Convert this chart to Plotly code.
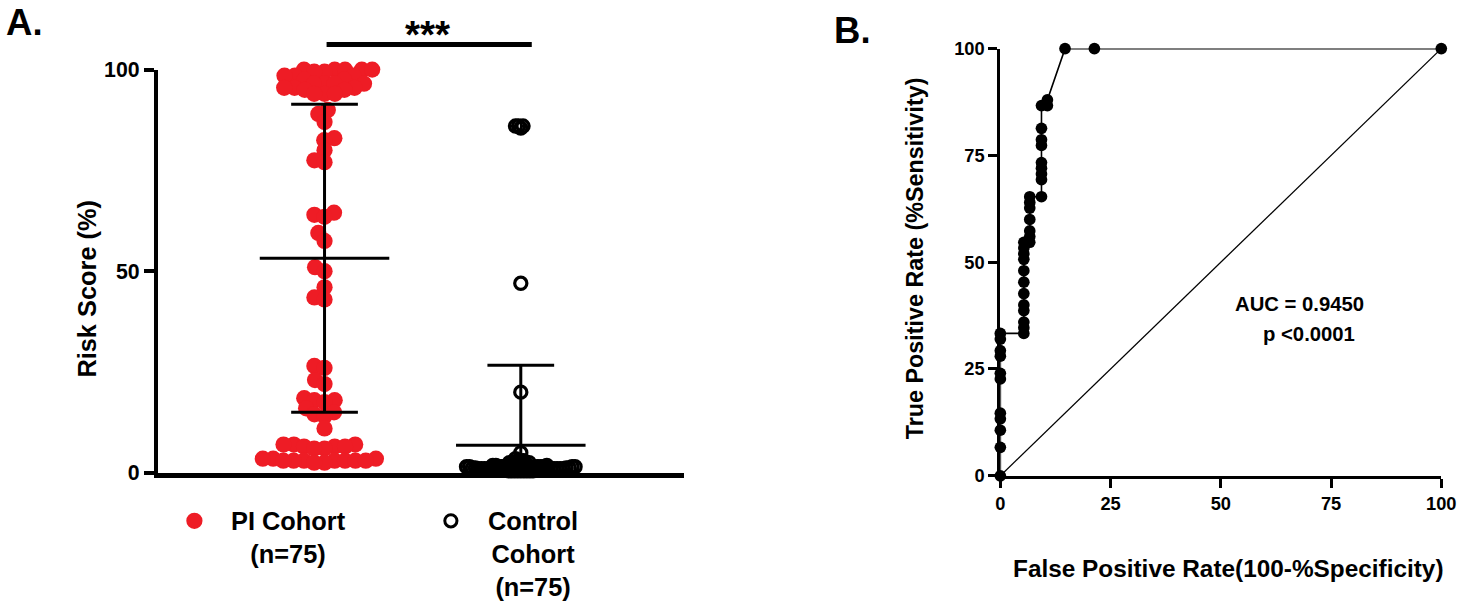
import math
import plotly.graph_objects as go

W, H = 1477, 606

# ---- panel A data (risk score, %) ----
pi_scores = [100, 100, 100, 100, 100, 99.5, 99.5, 98.5, 98.5, 98.5, 97.5, 97.5,
             96.5, 96.5, 96.5, 96.5, 95.5, 95.5, 95.5, 95, 95, 94, 94, 94,
             90, 89, 87,
             83, 82.5, 80, 77.5, 77,
             64.5, 64, 63.5, 59.5, 57.5,
             51, 50, 46, 43.5, 43,
             26.5, 26, 23, 22,
             18.5, 18, 18, 17.5, 16, 15, 14.5, 14, 11,
             7, 7, 7, 6.5, 6.5, 6.5, 6, 6, 3.5, 3.5, 3.5, 3, 3, 3, 3, 3, 3, 3, 2.5, 2.5]
control_scores = [86, 86, 86, 85.5, 47, 20, 5,
                  3.5, 3, 3, 3, 2.5, 2.5, 2.5, 2, 2, 2, 2, 2, 1.8, 1.8, 1.8,
                  1.5, 1.5, 1.5, 1.5, 1.5, 1.5, 1.5, 1.5, 1.5, 1.5, 1.5, 1.5,
                  1.2, 1.2, 1.2, 1.2, 1.2, 1.2, 1.2, 1.2, 1.2, 1.2, 1.2, 1.2,
                  1, 1, 1, 1, 1, 1, 1, 1, 1, 1, 1, 1,
                  0.8, 0.8, 0.8, 0.8, 0.8, 0.8, 0.8, 0.8,
                  0.5, 0.5, 0.5, 0.5, 0.5, 0.5, 0.5, 0.5, 0.5]
groups = ["PI Cohort<br>(n=75)", "Control<br>Cohort<br>(n=75)"]
group_mean = [53.2, 6.8]
group_sd = [38.2, 19.9]

# ---- panel B data (ROC) ----
roc_fpr = [0, 0, 0, 0, 0, 0, 0, 0, 0, 0, 0,
           5.33, 5.33, 5.33, 5.33, 5.33, 5.33, 5.33, 5.33, 5.33, 5.33, 5.33, 5.33,
           6.67, 6.67, 6.67, 6.67, 6.67, 6.67, 6.67,
           9.33, 9.33, 9.33, 9.33, 9.33, 9.33, 9.33, 9.33, 9.33,
           10.67, 10.67, 14.67, 21.33, 100]
roc_tpr = [0, 6.67, 10.67, 13.33, 14.67, 22.67, 24, 28, 29.33, 32, 33.33,
           33.33, 34.67, 36, 38.67, 40, 42.67, 45.33, 48, 50.67, 52, 53.33, 54.67,
           54.67, 56, 57.33, 60, 62.67, 64, 65.33,
           65.33, 69.33, 70.67, 72, 73.33, 77.33, 78.67, 81.33, 86.67,
           86.67, 88, 100, 100, 100]
ref_line = [0, 100]
roc_ticks = [0, 25, 50, 75, 100]
auc_text = "AUC = 0.9450"
p_text = "p <0.0001"

RED = "#ee1c25"
FONT = "Liberation Sans, Arial, sans-serif"

# the snapshot comes out a little squashed vertically; positions below are
# where things should land in the picture, these undo it
SY, OY = 0.960, 11.4
SZ = 1.015


def px(x):
    return x / W


def py(y):
    return 1 - ((y - OY) / SY) / H


def fs(s):
    return s * SZ


A_XRANGE = [0.151, 2.83]
A_DOM_X = [px(155), px(688)]
A_DOM_Y = [py(472), py(69)]
# real pixels per data unit in panel A
A_XPX = (A_DOM_X[1] - A_DOM_X[0]) * W / (A_XRANGE[1] - A_XRANGE[0])
A_YPX = (A_DOM_Y[1] - A_DOM_Y[0]) * H / 100.0


def swarm(values, gap):
    # simple beeswarm: each point goes as close to the centre as it can
    placed = []
    offs = [0.0] * len(values)
    for i in sorted(range(len(values)), key=lambda k: values[k]):
        y = values[i] * A_YPX
        cands = [0.0]
        for xj, yj in placed:
            dy = abs(y - yj)
            if dy < gap:
                dx = math.sqrt(gap * gap - dy * dy)
                cands += [xj - dx, xj + dx]
        cands.sort(key=abs)
        for c in cands:
            if all((c - xj) ** 2 + (y - yj) ** 2 >= gap * gap - 1e-6 for xj, yj in placed):
                offs[i] = c
                break
        placed.append((offs[i], y))
    return [o / A_XPX for o in offs]


fig = go.Figure()

pi_off = swarm(pi_scores, 10.5)
ctrl_off = swarm(control_scores, 3.1)

fig.add_trace(go.Scatter(
    x=[1 + o for o in pi_off], y=pi_scores, mode="markers",
    marker=dict(size=fs(16), color=RED), cliponaxis=False, xaxis="x", yaxis="y"))
fig.add_trace(go.Scatter(
    x=[2 + o for o in ctrl_off], y=control_scores, mode="markers",
    marker=dict(size=fs(12), symbol="circle-open", color="black",
                line=dict(width=3.2, color="black")),
    cliponaxis=False, xaxis="x", yaxis="y"))

# mean +/- SD bars
for k, (m, s) in enumerate(zip(group_mean, group_sd)):
    c = k + 1
    lo = max(m - s, 0)
    xs = [c - 0.33, c + 0.33, None, c, c, None, c - 0.17, c + 0.17]
    ys = [m, m, None, lo, m + s, None, m + s, m + s]
    if m - s > 0:
        xs += [None, c - 0.17, c + 0.17]
        ys += [None, lo, lo]
    fig.add_trace(go.Scatter(x=xs, y=ys, mode="lines", line=dict(color="black", width=3),
                             xaxis="x", yaxis="y"))

# ROC
fig.add_trace(go.Scatter(x=ref_line, y=ref_line, mode="lines",
                         line=dict(color="black", width=1.3), xaxis="x2", yaxis="y2"))
fig.add_trace(go.Scatter(x=roc_fpr, y=roc_tpr, mode="lines+markers",
                         line=dict(color="black", width=1.6),
                         marker=dict(size=fs(11.5), color="black"),
                         cliponaxis=False, xaxis="x2", yaxis="y2"))

fig.update_layout(
    width=W, height=H, margin=dict(l=0, r=0, t=0, b=0),
    paper_bgcolor="white", plot_bgcolor="white", showlegend=False,
    font=dict(family=FONT, color="black"),
    xaxis=dict(domain=A_DOM_X, range=A_XRANGE, showline=True,
               linewidth=5, linecolor="black", showticklabels=False, ticks="",
               showgrid=False, zeroline=False),
    yaxis=dict(domain=A_DOM_Y, range=[0, 100], tickvals=[0, 50, 100],
               ticks="outside", ticklen=10, tickwidth=4, tickcolor="black",
               showline=True, linewidth=4, linecolor="black", showgrid=False,
               zeroline=False, tickfont=dict(size=fs(21), weight="bold")),
    xaxis2=dict(domain=[px(1009), px(1456)], range=[0, 100], anchor="y2",
                tickvals=roc_ticks, ticks="outside", ticklen=9,
                tickwidth=3, tickcolor="black", showline=True, linewidth=3,
                linecolor="black", showgrid=False, zeroline=False,
                tickfont=dict(size=fs(18), weight="bold")),
    yaxis2=dict(domain=[py(475), py(48)], range=[0, 100], anchor="x2",
                tickvals=roc_ticks, ticks="outside", ticklen=9,
                tickwidth=3, tickcolor="black", showline=True, linewidth=3,
                linecolor="black", showgrid=False, zeroline=False,
                tickfont=dict(size=fs(18), weight="bold")),
)

r_dot = fs(8)
r_ring = fs(6)
shapes = [
    # significance bar
    dict(type="line", xref="paper", yref="paper", x0=px(326), x1=px(534),
         y0=py(44), y1=py(44), line=dict(color="black", width=5)),
    # legend markers
    dict(type="circle", xref="paper", yref="paper", xsizemode="pixel", ysizemode="pixel",
         xanchor=px(192), yanchor=py(520), x0=-r_dot, x1=r_dot, y0=-r_dot, y1=r_dot,
         fillcolor=RED, line=dict(width=0)),
    dict(type="circle", xref="paper", yref="paper", xsizemode="pixel", ysizemode="pixel",
         xanchor=px(452), yanchor=py(520), x0=-r_ring, x1=r_ring, y0=-r_ring, y1=r_ring,
         fillcolor="white", line=dict(color="black", width=3)),
]
fig.update_layout(shapes=shapes)


def note(text, x, y, size, angle=0):
    fig.add_annotation(text="<b>" + text + "</b>", x=px(x), y=py(y), xref="paper",
                       yref="paper", showarrow=False, textangle=angle,
                       xanchor="center", yanchor="middle", align="center",
                       font=dict(size=fs(size), family=FONT, color="black"))


note("A.", 20, 22, 36)
note("B.", 859, 30, 36)
note("***", 428, 34, 38)
note(groups[0], 287, 537, 25)
note(groups[1], 535, 553, 25)
note("Risk Score (%)", 83, 288, 25, angle=-90)
note("True Positive Rate (%Sensitivity)", 922, 258, 23, angle=-90)
note("False Positive Rate(100-%Specificity)", 1240, 568, 24)
note(auc_text, 1312, 303, 20)
note(p_text, 1322, 333, 20)

# page without the default body margin so the figure fills the window exactly
fig.write_html("out.html", config={"displayModeBar": False},
               post_script="document.body.style.margin='0px';")
